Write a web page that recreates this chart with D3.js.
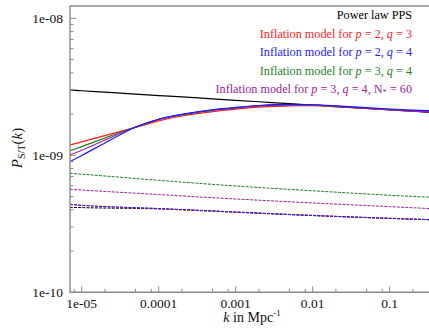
<!DOCTYPE html>
<html>
<head>
<meta charset="utf-8">
<script src="https://cdn.jsdelivr.net/npm/d3@7"></script>
<style>
  body { margin: 0; background: #fff; }
  svg { display: block; }
</style>
</head>
<body>
<svg id="chart" width="429" height="328"></svg>
<script>
// wavenumbers (Mpc^-1) for the scalar spectra
const kScalar = [7e-6, 1e-5, 2e-5, 5e-5, 1e-4, 2e-4, 5e-4, 1e-3, 2e-3, 5e-3, 1e-2, 2e-2, 5e-2, 0.1, 0.2, 0.35];
const powerLawS = [3.00e-9, 2.96e-9, 2.89e-9, 2.80e-9, 2.73e-9, 2.67e-9, 2.58e-9, 2.52e-9, 2.46e-9, 2.38e-9, 2.33e-9, 2.27e-9, 2.20e-9, 2.15e-9, 2.10e-9, 2.055e-9];
const p2q3S = [1.189e-9, 1.254e-9, 1.392e-9, 1.598e-9, 1.785e-9, 1.936e-9, 2.084e-9, 2.170e-9, 2.244e-9, 2.298e-9, 2.302e-9, 2.267e-9, 2.196e-9, 2.145e-9, 2.102e-9, 2.074e-9];
const p2q4S = [0.898e-9, 0.997e-9, 1.230e-9, 1.604e-9, 1.834e-9, 1.992e-9, 2.148e-9, 2.237e-9, 2.309e-9, 2.352e-9, 2.340e-9, 2.298e-9, 2.226e-9, 2.178e-9, 2.138e-9, 2.113e-9];
const p3q4S = [1.075e-9, 1.157e-9, 1.338e-9, 1.609e-9, 1.828e-9, 1.975e-9, 2.131e-9, 2.218e-9, 2.290e-9, 2.336e-9, 2.328e-9, 2.282e-9, 2.207e-9, 2.156e-9, 2.113e-9, 2.084e-9];
const p3q4N60S = [1.005e-9, 1.089e-9, 1.293e-9, 1.609e-9, 1.831e-9, 1.982e-9, 2.134e-9, 2.222e-9, 2.294e-9, 2.336e-9, 2.328e-9, 2.279e-9, 2.199e-9, 2.145e-9, 2.102e-9, 2.071e-9];

// tensor spectra (dashed)
const kTensor = [7e-6, 1e-5, 1e-4, 1e-3, 1e-2, 0.1, 0.35];
const powerLawT = [0.417e-9, 0.415e-9, 0.406e-9, 0.384e-9, 0.363e-9, 0.346e-9, 0.338e-9];
const p2q3T = [0.437e-9, 0.431e-9, 0.408e-9, 0.385e-9, 0.364e-9, 0.347e-9, 0.339e-9];
const p2q4T = [0.439e-9, 0.432e-9, 0.409e-9, 0.386e-9, 0.364e-9, 0.347e-9, 0.339e-9];
const p3q4T = [0.739e-9, 0.728e-9, 0.657e-9, 0.597e-9, 0.551e-9, 0.511e-9, 0.494e-9];
const p3q4N60T = [0.565e-9, 0.558e-9, 0.517e-9, 0.480e-9, 0.449e-9, 0.422e-9, 0.408e-9];

const xTicks = [1e-5, 1e-4, 1e-3, 1e-2, 1e-1];
const xTickLabels = ['1e-05', '0.0001', '0.001', '0.01', '0.1'];
const xMinor = [8e-6, 2e-5, 5e-5, 8e-5, 2e-4, 5e-4, 8e-4, 2e-3, 5e-3, 8e-3, 2e-2, 5e-2, 8e-2, 0.2];
const yTicks = [1e-10, 1e-9, 1e-8];
const yTickLabels = ['1e-10', '1e-09', '1e-08'];
const yMinorMult = [2, 3, 4, 5, 6, 7, 8, 9];

const COLORS = { black: '#000', red: '#ff1a1a', blue: '#1a1aff', green: '#1e7f1e', purple: '#a1209f' };
const FONT = 'Liberation Serif';

const series = [
  { k: kTensor, v: powerLawT, color: COLORS.black, dash: true },
  { k: kTensor, v: p2q3T, color: COLORS.red, dash: true },
  { k: kTensor, v: p3q4T, color: COLORS.green, dash: true },
  { k: kTensor, v: p3q4N60T, color: COLORS.purple, dash: true },
  { k: kTensor, v: p2q4T, color: COLORS.blue, dash: true },
  { k: kScalar, v: powerLawS, color: COLORS.black },
  { k: kScalar, v: p2q3S, color: COLORS.red },
  { k: kScalar, v: p3q4S, color: COLORS.green },
  { k: kScalar, v: p3q4N60S, color: COLORS.purple },
  { k: kScalar, v: p2q4S, color: COLORS.blue },
];

const legend = [
  { color: COLORS.black, parts: [['Power law PPS']] },
  { color: COLORS.red, parts: [['Inflation model for '], ['p', 'i'], [' = 2, '], ['q', 'i'], [' = 3']] },
  { color: COLORS.blue, parts: [['Inflation model for '], ['p', 'i'], [' = 2, '], ['q', 'i'], [' = 4']] },
  { color: COLORS.green, parts: [['Inflation model for '], ['p', 'i'], [' = 3, '], ['q', 'i'], [' = 4']] },
  { color: COLORS.purple, parts: [['Inflation model for '], ['p', 'i'], [' = 3, '], ['q', 'i'], [' = 4, N'], ['*', 'sub'], [' = 60', 'up']] },
];

const svg = d3.select('#chart');
const plotLeft = 70, plotTop = 6, plotBottom = 292.3;
const axisColor = '#8a8a8a';

const x = d3.scaleLog().domain([7.05e-6, 0.5]).range([plotLeft, 443.5]);
const y = d3.scaleLog().domain([1e-10, 1.23e-8]).range([plotBottom, plotTop]);

svg.append('defs').append('clipPath').attr('id', 'plot')
  .append('rect').attr('x', plotLeft).attr('y', plotTop).attr('width', 429 - plotLeft).attr('height', plotBottom - plotTop);

const line = d3.line().curve(d3.curveMonotoneX);
const g = svg.append('g').attr('clip-path', 'url(#plot)');
series.forEach(s => {
  g.append('path')
    .attr('d', line(s.k.map((k, i) => [x(k), y(s.v[i])])))
    .attr('fill', 'none')
    .attr('stroke', s.color)
    .attr('stroke-width', s.dash ? 1 : 1.2)
    .attr('stroke-dasharray', s.dash ? '3,1.2' : null);
});

// frame (left, bottom, top)
svg.append('path')
  .attr('d', `M429,${plotTop}H${plotLeft}V${plotBottom}H429`)
  .attr('fill', 'none').attr('stroke', axisColor).attr('stroke-width', 1.4);

// x ticks, pointing inward
svg.selectAll('.xmaj').data(xTicks).join('line')
  .attr('x1', d => x(d)).attr('x2', d => x(d)).attr('y1', plotBottom).attr('y2', plotBottom - 6)
  .attr('stroke', axisColor).attr('stroke-width', 1);
svg.selectAll('.xmin').data(xMinor).join('line')
  .attr('x1', d => x(d)).attr('x2', d => x(d)).attr('y1', plotBottom).attr('y2', plotBottom - 3.5)
  .attr('stroke', axisColor).attr('stroke-width', 1);
svg.selectAll('.xlab').data(xTicks).join('text')
  .attr('x', d => x(d)).attr('y', 307.5).attr('text-anchor', 'middle')
  .attr('font-family', FONT).style('font-family', FONT)
  .attr('font-size', 13.5).attr('fill', '#111')
  .text((d, i) => xTickLabels[i]);

// y ticks
const yMinor = [];
yTicks.forEach(t => yMinorMult.forEach(m => { if (t * m < 1.23e-8) yMinor.push(t * m); }));
svg.selectAll('.ymaj').data(yTicks).join('line')
  .attr('x1', plotLeft).attr('x2', plotLeft + 6).attr('y1', d => y(d)).attr('y2', d => y(d))
  .attr('stroke', axisColor).attr('stroke-width', 1);
svg.selectAll('.ymin').data(yMinor).join('line')
  .attr('x1', plotLeft).attr('x2', plotLeft + 3.5).attr('y1', d => y(d)).attr('y2', d => y(d))
  .attr('stroke', axisColor).attr('stroke-width', 1);
svg.selectAll('.ylab').data(yTicks).join('text')
  .attr('x', 63).attr('y', d => y(d) + 4.5).attr('text-anchor', 'end')
  .attr('font-family', FONT).style('font-family', FONT)
  .attr('font-size', 13.5).attr('fill', '#111')
  .text((d, i) => yTickLabels[i]);

// axis titles
const xt = svg.append('text').attr('x', 252).attr('y', 322).attr('text-anchor', 'middle')
  .attr('font-family', FONT).style('font-family', FONT)
  .attr('font-size', 14).attr('fill', '#111');
xt.append('tspan').attr('font-style', 'italic').text('k');
xt.append('tspan').text(' in Mpc');
xt.append('tspan').attr('font-size', 9).attr('dy', -6).text('-1');

const yt = svg.append('text').attr('transform', 'translate(22,148) rotate(-90)')
  .attr('font-family', FONT).style('font-family', FONT)
  .attr('text-anchor', 'middle').attr('font-size', 15).attr('fill', '#111');
yt.append('tspan').attr('font-style', 'italic').text('P');
yt.append('tspan').attr('font-size', 10).attr('dy', 3).text('S/T');
yt.append('tspan').attr('dy', -3).text('(');
yt.append('tspan').attr('font-style', 'italic').text('k');
yt.append('tspan').text(')');

// legend
legend.forEach((item, i) => {
  const t = svg.append('text').attr('x', 412).attr('y', 19.3 + i * 18.5)
    .attr('font-family', FONT).style('font-family', FONT)
    .attr('text-anchor', 'end').attr('font-size', 12.2).attr('fill', item.color);
  item.parts.forEach(([txt, style]) => {
    const sp = t.append('tspan').text(txt);
    if (style === 'i') sp.attr('font-style', 'italic');
    if (style === 'sub') sp.attr('font-size', 8.5).attr('dy', 2);
    if (style === 'up') sp.attr('dy', -2);
  });
});
</script>
</body>
</html>
